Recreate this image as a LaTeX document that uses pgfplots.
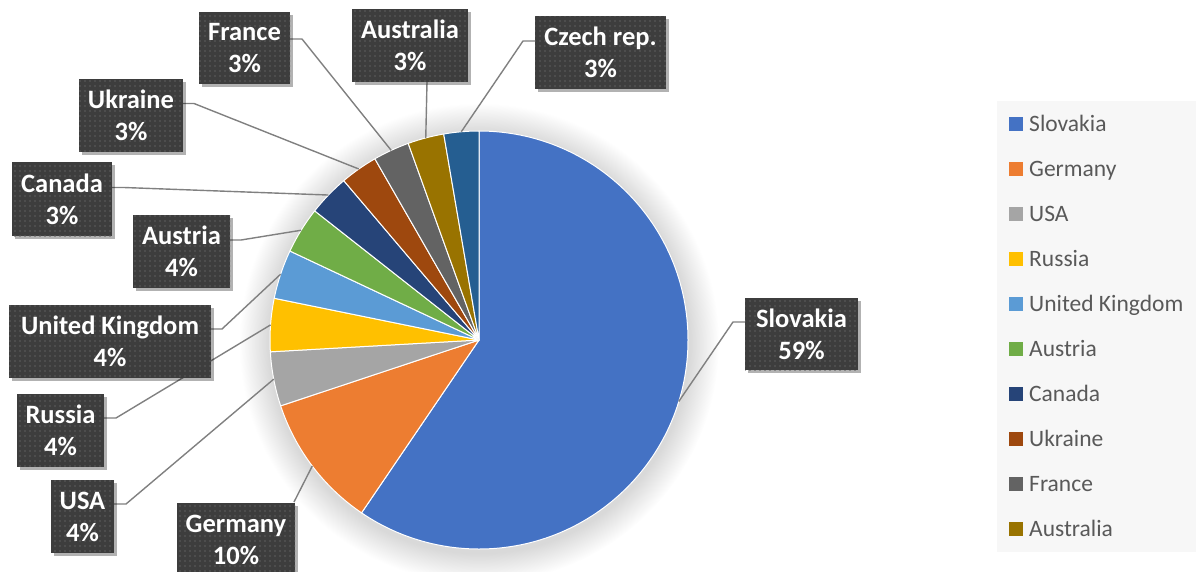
\documentclass[border=0pt]{standalone}
\usepackage{pgfplots}
\pgfplotsset{compat=1.18}
\usepackage{pgfplotstable}
\usepackage{fontspec}
\setmainfont{Carlito}
\usetikzlibrary{patterns.meta,shadows}

\definecolor{csk}{HTML}{4472C4}
\definecolor{cde}{HTML}{ED7D31}
\definecolor{cus}{HTML}{A5A5A5}
\definecolor{cru}{HTML}{FFC000}
\definecolor{cuk}{HTML}{5B9BD5}
\definecolor{cat}{HTML}{70AD47}
\definecolor{cca}{HTML}{264478}
\definecolor{cua}{HTML}{9E480E}
\definecolor{cfr}{HTML}{636363}
\definecolor{cau}{HTML}{997300}
\definecolor{ccz}{HTML}{255E91}
\definecolor{lblbg}{HTML}{3D3D3D}
\definecolor{lbldot}{HTML}{5E5E5E}
\definecolor{leadc}{HTML}{808080}
\definecolor{legbg}{HTML}{F7F7F7}
\definecolor{legtx}{HTML}{595959}

\pgfdeclareradialshading{pieglow}{\pgfpoint{0bp}{0bp}}{%
  color(0bp)=(black!15); color(21.9bp)=(black!15); color(25bp)=(white); color(50bp)=(white)}

% name, share (%), label %, colour, label box centre (x,y px), box size, leader start, elbow
\pgfplotstableread[col sep=comma]{
name,val,pct,col,cx,cy,w,h,sx,sy,ex,ey
Slovakia,59.5,59,csk,801.5,334,113,72,745,322,733,322
Germany,10.4,10,cde,236,539.5,118,73,294,502,294,502
USA,4.2,4,cus,82.5,516.5,63,73,114,504,126,504
Russia,4.1,4,cru,60.5,430.5,87,73,104,418,116,418
United Kingdom,3.8,4,cuk,110,341.5,202,73,211,329,222,329
Austria,3.6,4,cat,181.5,251.5,97,73,230,240,241,240
Canada,3.2,3,cca,62,199,100,74,112,187.5,124,187.5
Ukraine,2.9,3,cua,131,115.5,104,73,183,103.5,194,103.5
France,2.8,3,cfr,244.5,48,91,72,290,39,302,39
Australia,2.8,3,cau,410,45.5,116,73,427,82,427,82
Czech rep.,2.7,3,ccz,600.5,52.5,131,73,535,41,523,41
}\piedata

\tikzset{
  lbl/.style={fill=lblbg, text=white, font=\fontsize{26.5}{32}\selectfont\bfseries,
    align=center, inner sep=0pt,
    drop shadow={shadow xshift=2.5pt, shadow yshift=-2.5pt, opacity=0.3, fill=black},
    postaction={pattern={Dots[distance=5pt,radius=0.85pt]}, pattern color=lbldot}},
  leader/.style={draw=leadc, line width=1.4pt, line join=round},
  legtext/.style={anchor=base west, inner sep=0pt, text=legtx, font=\fontsize{23.5}{28}\selectfont}
}

\begin{document}
\begin{tikzpicture}
\path[use as bounding box] (0,0) rectangle (1196pt,571pt);
\clip (0,0) rectangle (1196pt,571pt);
\begin{axis}[scale only axis,
  width=1196pt, height=571pt, xmin=0, xmax=1196, ymin=0, ymax=571,
  y dir=reverse, hide axis, clip=false]

\shade[shading=pieglow] (axis cs:479,343) circle (240pt);

% slices
\def\cum{0}
\pgfplotsforeachungrouped \k in {0,...,10}{%
  \pgfplotstablegetelem{\k}{val}\of\piedata\let\sV\pgfplotsretval
  \pgfplotstablegetelem{\k}{col}\of\piedata\let\sC\pgfplotsretval
  \pgfmathsetmacro\sA{90-3.6*\cum}%
  \pgfmathsetmacro\sB{90-3.6*(\cum+\sV)}%
  \edef\mycmd{\noexpand\fill[fill=\sC,draw=white,line width=1pt,line join=round]
    (axis cs:479,340) -- ++(\sA:209pt) arc[start angle=\sA,end angle=\sB,radius=209pt] -- cycle;}%
  \mycmd
  \pgfmathsetmacro\cum{\cum+\sV}%
}

% leaders and labels
\def\cum{0}
\pgfplotsforeachungrouped \k in {0,...,10}{%
  \pgfplotstablegetelem{\k}{val}\of\piedata\let\sV\pgfplotsretval
  \pgfplotstablegetelem{\k}{name}\of\piedata\let\sN\pgfplotsretval
  \pgfplotstablegetelem{\k}{pct}\of\piedata\let\sP\pgfplotsretval
  \pgfplotstablegetelem{\k}{cx}\of\piedata\let\sX\pgfplotsretval
  \pgfplotstablegetelem{\k}{cy}\of\piedata\let\sY\pgfplotsretval
  \pgfplotstablegetelem{\k}{w}\of\piedata\let\sW\pgfplotsretval
  \pgfplotstablegetelem{\k}{h}\of\piedata\let\sH\pgfplotsretval
  \pgfplotstablegetelem{\k}{sx}\of\piedata\let\lX\pgfplotsretval
  \pgfplotstablegetelem{\k}{sy}\of\piedata\let\lY\pgfplotsretval
  \pgfplotstablegetelem{\k}{ex}\of\piedata\let\eX\pgfplotsretval
  \pgfplotstablegetelem{\k}{ey}\of\piedata\let\eY\pgfplotsretval
  \pgfmathsetmacro\sM{90-3.6*(\cum+\sV/2)}%
  \edef\mycmd{\noexpand\draw[leader] (axis cs:479,340) ++(\sM:209pt) -- (axis cs:\eX,\eY) -- (axis cs:\lX,\lY);}%
  \mycmd
  \edef\mycmd{\noexpand\path (axis cs:\sX,\sY) node[lbl, minimum width=\sW pt, minimum height=\sH pt] {\sN\noexpand\\\sP\noexpand\%};}%
  \mycmd
  \pgfmathsetmacro\cum{\cum+\sV}%
}

% legend
\fill[legbg] (axis cs:997,101) rectangle (axis cs:1196,552);
\pgfplotsforeachungrouped \k in {0,...,9}{%
  \pgfplotstablegetelem{\k}{name}\of\piedata\let\sN\pgfplotsretval
  \pgfplotstablegetelem{\k}{col}\of\piedata\let\sC\pgfplotsretval
  \pgfmathsetmacro\yT{117+45*\k}%
  \pgfmathsetmacro\yB{131+45*\k}%
  \edef\mycmd{\noexpand\fill[fill=\sC] (axis cs:1009,\yT) rectangle (axis cs:1023,\yB);}%
  \mycmd
  \edef\mycmd{\noexpand\path (axis cs:1029,\yB) node[legtext] {\sN};}%
  \mycmd
}
\end{axis}
\end{tikzpicture}
\end{document}
